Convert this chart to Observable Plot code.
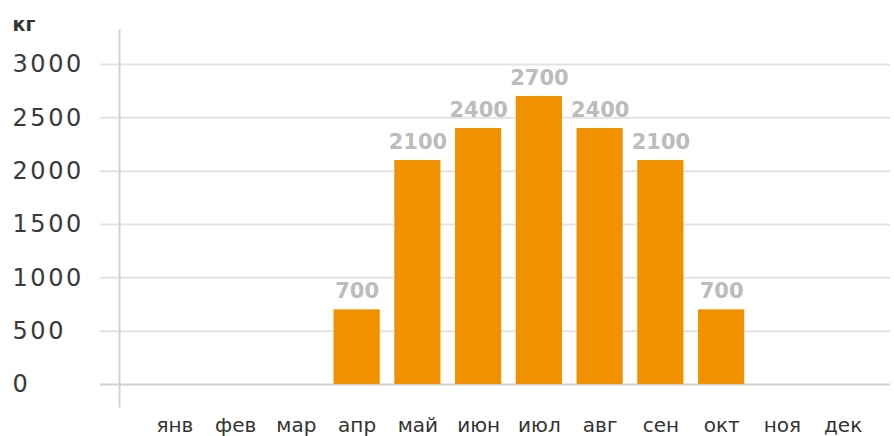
<!DOCTYPE html>
<html>
<head>
<meta charset="utf-8">
<script src="https://cdn.jsdelivr.net/npm/d3@7"></script>
<script src="https://cdn.jsdelivr.net/npm/@observablehq/plot@0.6"></script>
<style>
  html, body { margin: 0; padding: 0; background: #fff; }
  svg { display: block; }
</style>
</head>
<body>
<div id="chart"></div>
<script>
const months = ["янв", "фев", "мар", "апр", "май", "июн", "июл", "авг", "сен", "окт", "ноя", "дек"];
const values = [0, 0, 0, 700, 2100, 2400, 2700, 2400, 2100, 700, 0, 0];
const yTicks = [0, 500, 1000, 1500, 2000, 2500, 3000];
const unitLabel = "кг";

const data = months.map((m, i) => ({month: m, value: values[i]}));
const font = "DejaVu Sans, sans-serif";

const chart = Plot.plot({
  width: 894,
  height: 436,
  marginLeft: 144,
  marginRight: 21,
  marginTop: 64,
  marginBottom: 52,
  style: {fontFamily: font, background: "#fff", overflow: "visible"},
  x: {domain: months, paddingInner: 0.24, paddingOuter: 0.12, round: false, label: null},
  y: {domain: [0, 3000], ticks: yTicks, label: null},
  marks: [
    Plot.ruleY(yTicks.filter(d => d > 0), {stroke: "#e3e3e3", strokeWidth: 2, insetLeft: -44, insetRight: -17}),
    Plot.ruleY([0], {stroke: "#d2d2d2", strokeWidth: 2, insetLeft: -44, insetRight: -17}),
    Plot.frame({anchor: "left", stroke: "#d2d2d2", strokeWidth: 2, strokeOpacity: 1, insetLeft: -25, insetTop: -34, insetBottom: -22}),
    Plot.barY(data, {x: "month", y: "value", fill: "#f29100"}),
    Plot.text(data.filter(d => d.value > 0), {
      x: "month", y: "value", text: d => String(d.value),
      lineAnchor: "bottom", dy: -12, fill: "#bcbcbc", fontSize: 21, fontWeight: 600
    }),
    Plot.text(yTicks, {
      y: d => d, text: d => String(d), frameAnchor: "left", textAnchor: "start",
      dx: -132, fill: "#3a3a3a", fontSize: 24
    }),
    Plot.axisX({tickSize: 0, tickPadding: 33, fontSize: 20, fill: "#333", label: null}),
    Plot.axisY({ticks: [], label: null}),
    Plot.text([unitLabel], {
      frameAnchor: "top-left", textAnchor: "start", lineAnchor: "bottom",
      dx: -132, dy: -34, fontSize: 19, fontWeight: "bold", fill: "#333"
    })
  ]
});
chart.querySelectorAll("g[fill='#3a3a3a'] text").forEach(t => { t.style.letterSpacing = "2.6px"; });
document.getElementById("chart").appendChild(chart);
</script>
</body>
</html>
